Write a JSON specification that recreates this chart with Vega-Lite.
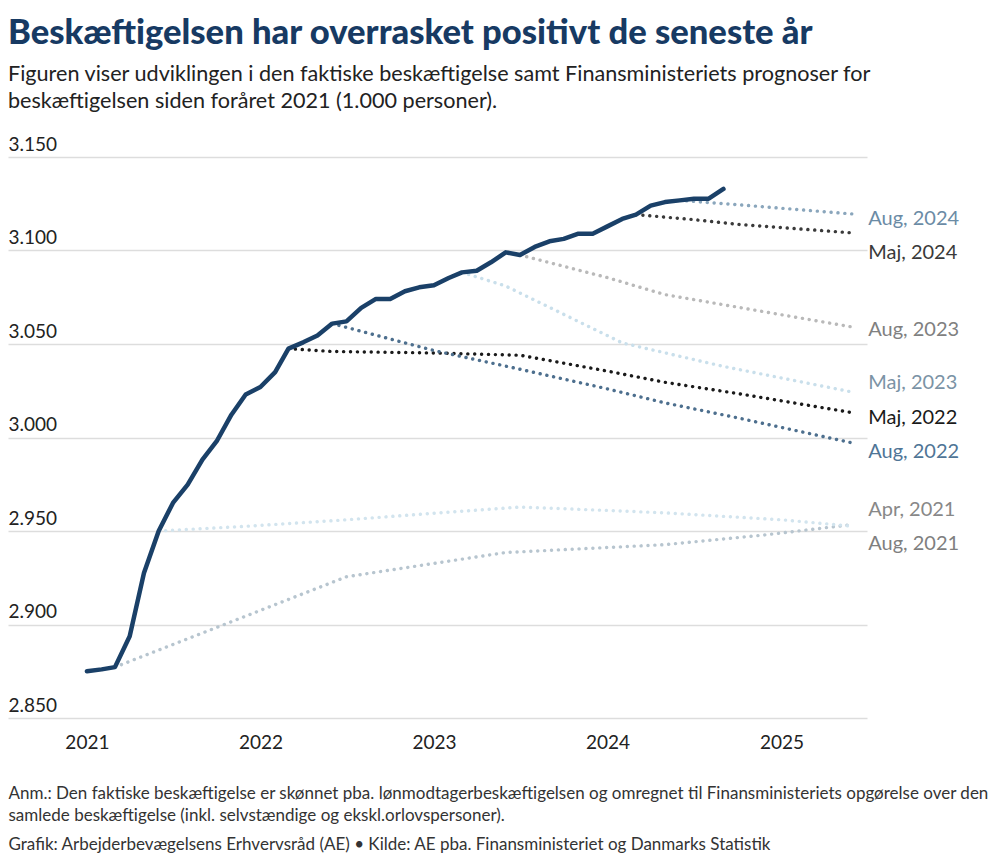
{
  "$schema": "https://vega.github.io/schema/vega-lite/v6.json",
  "autosize": {"type": "none"},
  "width": 859,
  "height": 561,
  "padding": {"left": 8, "top": 157, "right": 133, "bottom": 143},
  "background": "white",
  "title": {
    "text": "Beskæftigelsen har overrasket positivt de seneste år",
    "subtitle": ["Figuren viser udviklingen i den faktiske beskæftigelse samt Finansministeriets prognoser for", "beskæftigelsen siden foråret 2021 (1.000 personer)."],
    "anchor": "start",
    "frame": "group",
    "font": "Lato",
    "fontSize": 34.6,
    "fontWeight": 900,
    "color": "#173a63",
    "subtitleFont": "Lato",
    "subtitleFontSize": 21.6,
    "subtitleColor": "#222222",
    "subtitleLineHeight": 27,
    "subtitlePadding": 12,
    "offset": 22
  },
  "datasets": {
    "actual": [
      {"date": "2021-01-01", "value": 2875},
      {"date": "2021-02-01", "value": 2876},
      {"date": "2021-03-01", "value": 2877.2},
      {"date": "2021-04-01", "value": 2893.7},
      {"date": "2021-05-01", "value": 2927.6},
      {"date": "2021-06-01", "value": 2950},
      {"date": "2021-07-01", "value": 2965},
      {"date": "2021-08-01", "value": 2974.8},
      {"date": "2021-09-01", "value": 2988.2},
      {"date": "2021-10-01", "value": 2998},
      {"date": "2021-11-01", "value": 3012.2},
      {"date": "2021-12-01", "value": 3023},
      {"date": "2022-01-01", "value": 3027},
      {"date": "2022-02-01", "value": 3035},
      {"date": "2022-03-01", "value": 3047.5},
      {"date": "2022-04-01", "value": 3050.9},
      {"date": "2022-05-01", "value": 3054.5},
      {"date": "2022-06-01", "value": 3060.9},
      {"date": "2022-07-01", "value": 3062.1},
      {"date": "2022-08-01", "value": 3069.3},
      {"date": "2022-09-01", "value": 3074.1},
      {"date": "2022-10-01", "value": 3074.1},
      {"date": "2022-11-01", "value": 3078.2},
      {"date": "2022-12-01", "value": 3080.3},
      {"date": "2023-01-01", "value": 3081.4},
      {"date": "2023-02-01", "value": 3085.3},
      {"date": "2023-03-01", "value": 3088.3},
      {"date": "2023-04-01", "value": 3089.2},
      {"date": "2023-05-01", "value": 3093.7},
      {"date": "2023-06-01", "value": 3099},
      {"date": "2023-07-01", "value": 3097.6},
      {"date": "2023-08-01", "value": 3101.9},
      {"date": "2023-09-01", "value": 3104.9},
      {"date": "2023-10-01", "value": 3106.2},
      {"date": "2023-11-01", "value": 3109},
      {"date": "2023-12-01", "value": 3109},
      {"date": "2024-01-01", "value": 3112.9},
      {"date": "2024-02-01", "value": 3116.9},
      {"date": "2024-03-01", "value": 3119.2},
      {"date": "2024-04-01", "value": 3124},
      {"date": "2024-05-01", "value": 3125.9},
      {"date": "2024-06-01", "value": 3126.8},
      {"date": "2024-07-01", "value": 3127.7},
      {"date": "2024-08-01", "value": 3127.7},
      {"date": "2024-09-01", "value": 3132.9}
    ],
    "forecast": [
      {"forecast": "Apr, 2021", "date": "2021-03-01", "value": 2877.2},
      {"forecast": "Apr, 2021", "date": "2022-07-01", "value": 2925.5},
      {"forecast": "Apr, 2021", "date": "2022-11-01", "value": 2930.3},
      {"forecast": "Apr, 2021", "date": "2023-06-01", "value": 2938.5},
      {"forecast": "Apr, 2021", "date": "2024-05-01", "value": 2942.7},
      {"forecast": "Apr, 2021", "date": "2024-12-01", "value": 2948},
      {"forecast": "Apr, 2021", "date": "2025-06-01", "value": 2953.5},
      {"forecast": "Aug, 2021", "date": "2021-06-01", "value": 2950},
      {"forecast": "Aug, 2021", "date": "2021-12-01", "value": 2952.5},
      {"forecast": "Aug, 2021", "date": "2022-07-01", "value": 2956},
      {"forecast": "Aug, 2021", "date": "2023-01-01", "value": 2959.5},
      {"forecast": "Aug, 2021", "date": "2023-07-01", "value": 2962.8},
      {"forecast": "Aug, 2021", "date": "2024-01-01", "value": 2961},
      {"forecast": "Aug, 2021", "date": "2024-05-01", "value": 2959.7},
      {"forecast": "Aug, 2021", "date": "2025-01-01", "value": 2956},
      {"forecast": "Aug, 2021", "date": "2025-06-01", "value": 2952.5},
      {"forecast": "Maj, 2022", "date": "2022-03-01", "value": 3047.5},
      {"forecast": "Maj, 2022", "date": "2022-06-01", "value": 3046},
      {"forecast": "Maj, 2022", "date": "2023-01-01", "value": 3045.2},
      {"forecast": "Maj, 2022", "date": "2023-07-01", "value": 3044},
      {"forecast": "Maj, 2022", "date": "2024-01-01", "value": 3035.5},
      {"forecast": "Maj, 2022", "date": "2024-05-01", "value": 3029.5},
      {"forecast": "Maj, 2022", "date": "2024-10-01", "value": 3023.5},
      {"forecast": "Maj, 2022", "date": "2025-06-01", "value": 3013.2},
      {"forecast": "Aug, 2022", "date": "2022-06-01", "value": 3060.9},
      {"forecast": "Aug, 2022", "date": "2023-01-01", "value": 3046.5},
      {"forecast": "Aug, 2022", "date": "2023-07-01", "value": 3036.5},
      {"forecast": "Aug, 2022", "date": "2024-01-01", "value": 3026},
      {"forecast": "Aug, 2022", "date": "2024-05-01", "value": 3018.5},
      {"forecast": "Aug, 2022", "date": "2024-10-01", "value": 3010.5},
      {"forecast": "Aug, 2022", "date": "2025-06-01", "value": 2997},
      {"forecast": "Maj, 2023", "date": "2023-03-01", "value": 3088.3},
      {"forecast": "Maj, 2023", "date": "2023-06-01", "value": 3081},
      {"forecast": "Maj, 2023", "date": "2024-02-01", "value": 3050.6},
      {"forecast": "Maj, 2023", "date": "2024-09-01", "value": 3038},
      {"forecast": "Maj, 2023", "date": "2025-06-01", "value": 3024.2},
      {"forecast": "Aug, 2023", "date": "2023-07-01", "value": 3097.6},
      {"forecast": "Aug, 2023", "date": "2024-01-01", "value": 3085.5},
      {"forecast": "Aug, 2023", "date": "2024-05-01", "value": 3076.4},
      {"forecast": "Aug, 2023", "date": "2025-06-01", "value": 3059},
      {"forecast": "Maj, 2024", "date": "2024-03-01", "value": 3119.2},
      {"forecast": "Maj, 2024", "date": "2024-07-01", "value": 3116.5},
      {"forecast": "Maj, 2024", "date": "2024-10-01", "value": 3114},
      {"forecast": "Maj, 2024", "date": "2025-06-01", "value": 3109.4},
      {"forecast": "Aug, 2024", "date": "2024-06-01", "value": 3126.8},
      {"forecast": "Aug, 2024", "date": "2024-10-01", "value": 3124.5},
      {"forecast": "Aug, 2024", "date": "2025-06-01", "value": 3119.5}
    ],
    "labels": [
      {"forecast": "Aug, 2024", "date": "2025-06-01", "value": 3117.8},
      {"forecast": "Maj, 2024", "date": "2025-06-01", "value": 3099.4},
      {"forecast": "Aug, 2023", "date": "2025-06-01", "value": 3058.4},
      {"forecast": "Maj, 2023", "date": "2025-06-01", "value": 3029.9},
      {"forecast": "Maj, 2022", "date": "2025-06-01", "value": 3011.1},
      {"forecast": "Aug, 2022", "date": "2025-06-01", "value": 2992.9},
      {"forecast": "Apr, 2021", "date": "2025-06-01", "value": 2962},
      {"forecast": "Aug, 2021", "date": "2025-06-01", "value": 2943.9}
    ]
  },
  "layer": [
    {
      "data": {"name": "forecast"},
      "mark": {"type": "line", "strokeDash": [0.1, 6.8], "strokeCap": "round", "strokeWidth": 3.4},
      "encoding": {
        "x": {
          "field": "date",
          "type": "temporal",
          "scale": {"domain": [{"year": 2020, "month": 7, "date": 19}, {"year": 2025, "month": 6, "date": 30}]},
          "axis": {
            "values": [{"year": 2021, "month": 1, "date": 1}, {"year": 2022, "month": 1, "date": 1}, {"year": 2023, "month": 1, "date": 1}, {"year": 2024, "month": 1, "date": 1}, {"year": 2025, "month": 1, "date": 1}],
            "format": "%Y",
            "labelFont": "Lato",
            "labelFontSize": 19,
            "labelColor": "#222222",
            "labelBaseline": "alphabetic",
            "labelPadding": 30,
            "labelFlush": false,
            "ticks": false,
            "tickSize": 0,
            "domain": false,
            "grid": false,
            "title": ["Anm.: Den faktiske beskæftigelse er skønnet pba. lønmodtagerbeskæftigelsen og omregnet til Finansministeriets opgørelse over den", "samlede beskæftigelse (inkl. selvstændige og ekskl.orlovspersoner)."],
            "titleAnchor": "start",
            "titleAlign": "left",
            "titleX": 0,
            "titleY": 67,
            "titleBaseline": "top",
            "titleLineHeight": 22,
            "titleFont": "Lato",
            "titleFontSize": 17,
            "titleFontWeight": "normal",
            "titleColor": "#333333"
          }
        },
        "y": {
          "field": "value",
          "type": "quantitative",
          "scale": {"domain": [2850, 3150], "nice": false, "zero": false},
          "axis": {
            "values": [2850, 2900, 2950, 3000, 3050, 3100, 3150],
            "labelExpr": "replace(format(datum.value, ','), ',', '.')",
            "labelAlign": "left",
            "labelBaseline": "alphabetic",
            "labelPadding": 0,
            "labelOffset": -6.6,
            "labelFlush": false,
            "labelOverlap": false,
            "labelFont": "Lato",
            "labelFontSize": 19,
            "labelColor": "#222222",
            "ticks": false,
            "tickSize": 0,
            "domain": false,
            "grid": true,
            "gridColor": "#dddddd",
            "gridWidth": 1.5,
            "title": "Grafik: Arbejderbevægelsens Erhvervsråd (AE) • Kilde: AE pba. Finansministeriet og Danmarks Statistik",
            "titleAngle": 0,
            "titleX": 0,
            "titleY": 692,
            "titleAlign": "left",
            "titleBaseline": "alphabetic",
            "titleFont": "Lato",
            "titleFontSize": 17,
            "titleFontWeight": "normal",
            "titleColor": "#333333"
          }
        },
        "color": {
          "field": "forecast",
          "type": "nominal",
          "scale": {
            "domain": ["Apr, 2021", "Aug, 2021", "Maj, 2022", "Aug, 2022", "Maj, 2023", "Aug, 2023", "Maj, 2024", "Aug, 2024"],
            "range": ["#b7c5cf", "#d2e4ee", "#1a1a1a", "#4d6f8e", "#c9dfeb", "#b9b9b9", "#3a3a3a", "#8aa6bc"]
          },
          "legend": null
        }
      }
    },
    {
      "data": {"name": "actual"},
      "mark": {"type": "line", "color": "#1a4068", "strokeWidth": 4.5, "strokeJoin": "round", "strokeCap": "round"},
      "encoding": {
        "x": {"field": "date", "type": "temporal"},
        "y": {"field": "value", "type": "quantitative"}
      }
    },
    {
      "data": {"name": "labels"},
      "mark": {"type": "text", "align": "left", "baseline": "alphabetic", "dx": 15, "dy": 7.3, "font": "Lato", "fontSize": 20},
      "encoding": {
        "x": {"field": "date", "type": "temporal"},
        "y": {"field": "value", "type": "quantitative"},
        "text": {"field": "forecast"},
        "color": {
          "field": "forecast",
          "type": "nominal",
          "scale": {
            "domain": ["Aug, 2024", "Maj, 2024", "Aug, 2023", "Maj, 2023", "Maj, 2022", "Aug, 2022", "Apr, 2021", "Aug, 2021"],
            "range": ["#6b8ba5", "#3a3a3a", "#808080", "#7b93a5", "#1a1a1a", "#4f7596", "#888888", "#7f7f7f"]
          },
          "legend": null
        }
      }
    }
  ],
  "resolve": {"scale": {"color": "independent"}},
  "config": {"view": {"stroke": null}, "font": "Lato"}
}
